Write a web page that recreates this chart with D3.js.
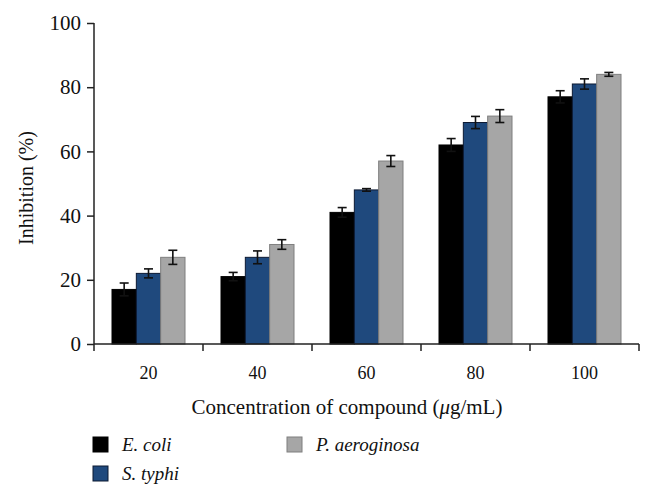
<!DOCTYPE html>
<html><head><meta charset="utf-8">
<script src="https://cdn.jsdelivr.net/npm/d3@7/dist/d3.min.js"></script>
<style>body{margin:0;background:#fff}svg{display:block}</style>
</head><body><svg id="c" width="653" height="498"></svg>
<script>
const categories = ["20","40","60","80","100"];
const seriesNames = ["E. coli","S. typhi","P. aeroginosa"];
const ecoli = [17,21,41,62,77];
const styphi = [22,27,48,69,81];
const paer = [27,31,57,71,84];
const ecoliErr = [2,1.3,1.5,2,1.9];
const styphiErr = [1.4,2,0.4,1.9,1.6];
const paerErr = [2.2,1.5,1.7,2,0.6];
const yTicks = [0,20,40,60,80,100];
const fills = ["#000000","#1f497d","#a6a6a6"];
const strokes = ["#000000","#0d1a33","#7f7f7f"];

const values=[ecoli,styphi,paer], errs=[ecoliErr,styphiErr,paerErr];
const svg=d3.select("#c");
const L=94,R=639,T=23,B=344;
const x=d3.scaleBand().domain(categories).range([L,R]).paddingInner(0).paddingOuter(0);
const y=d3.scaleLinear().domain([0,100]).range([B,T]);
const groupW=73;
const xs=d3.scaleBand().domain(d3.range(3)).range([0,groupW]);
const serif="'Liberation Serif','Times New Roman',serif";

categories.forEach((c,i)=>{
  const g0=x(c)+(x.bandwidth()-groupW)/2;
  for(let s=0;s<3;s++){
    const v=values[s][i], e=errs[s][i];
    const bx=g0+xs(s), bw=xs.bandwidth();
    svg.append("rect").attr("x",bx).attr("y",y(v)).attr("width",bw).attr("height",B-y(v))
      .attr("fill",fills[s]).attr("stroke",strokes[s]).attr("stroke-width",1);
    const cx=bx+bw/2;
    const eg=svg.append("g").attr("stroke","#111").attr("stroke-width",1.6);
    eg.append("line").attr("x1",cx).attr("x2",cx).attr("y1",y(v+e)).attr("y2",y(v-e));
    eg.append("line").attr("x1",cx-4.5).attr("x2",cx+4.5).attr("y1",y(v+e)).attr("y2",y(v+e));
    eg.append("line").attr("x1",cx-4.5).attr("x2",cx+4.5).attr("y1",y(v-e)).attr("y2",y(v-e));
  }
});

// y axis
const ya=svg.append("g").attr("transform",`translate(${L},0)`)
  .call(d3.axisLeft(y).tickValues(yTicks).tickSize(7).tickPadding(6));
ya.select(".domain").attr("d",`M0,${T}V${B+7}`);
// x axis with ticks at boundaries
const xa=svg.append("g").attr("transform",`translate(0,${B})`)
  .call(d3.axisBottom(x).tickSize(0).tickPadding(22));
xa.select(".domain").attr("d",`M${L},0H${R}`);
const bounds=categories.slice(1).map(c=>x(c)).concat([R]);
xa.selectAll(".bt").data(bounds).join("line").attr("class","bt")
  .attr("x1",d=>d).attr("x2",d=>d).attr("y1",0).attr("y2",7);
[ya,xa].forEach(a=>{
  a.selectAll(".domain,line").attr("stroke","#222").attr("stroke-width",1.5);
  a.selectAll("text").attr("font-family",serif).attr("fill","#111");
});
ya.selectAll("text").attr("font-size",21);
xa.selectAll("text").attr("font-size",18);

// axis titles
svg.append("text").attr("transform","translate(33,188) rotate(-90)").attr("text-anchor","middle")
  .attr("font-family",serif).attr("font-size",20).attr("fill","#111").text("Inhibition (%)");
const xt=svg.append("text").attr("x",347).attr("y",414).attr("text-anchor","middle")
  .attr("font-family",serif).attr("font-size",21).attr("fill","#111");
xt.append("tspan").text("Concentration of compound (");
xt.append("tspan").attr("font-style","italic").text("μ");
xt.append("tspan").text("g/mL)");

// legend
const legPos=[[93,437],[93,466],[287,437]];
seriesNames.forEach((n,s)=>{
  const [lx,ly]=legPos[s];
  svg.append("rect").attr("x",lx).attr("y",ly).attr("width",15).attr("height",15)
    .attr("fill",fills[s]).attr("stroke",strokes[s]).attr("stroke-width",1);
  svg.append("text").attr("x",lx+29).attr("y",ly+14).attr("font-family",serif).attr("font-style","italic")
    .attr("font-size",19).attr("fill","#111").text(n);
});
</script></body></html>
